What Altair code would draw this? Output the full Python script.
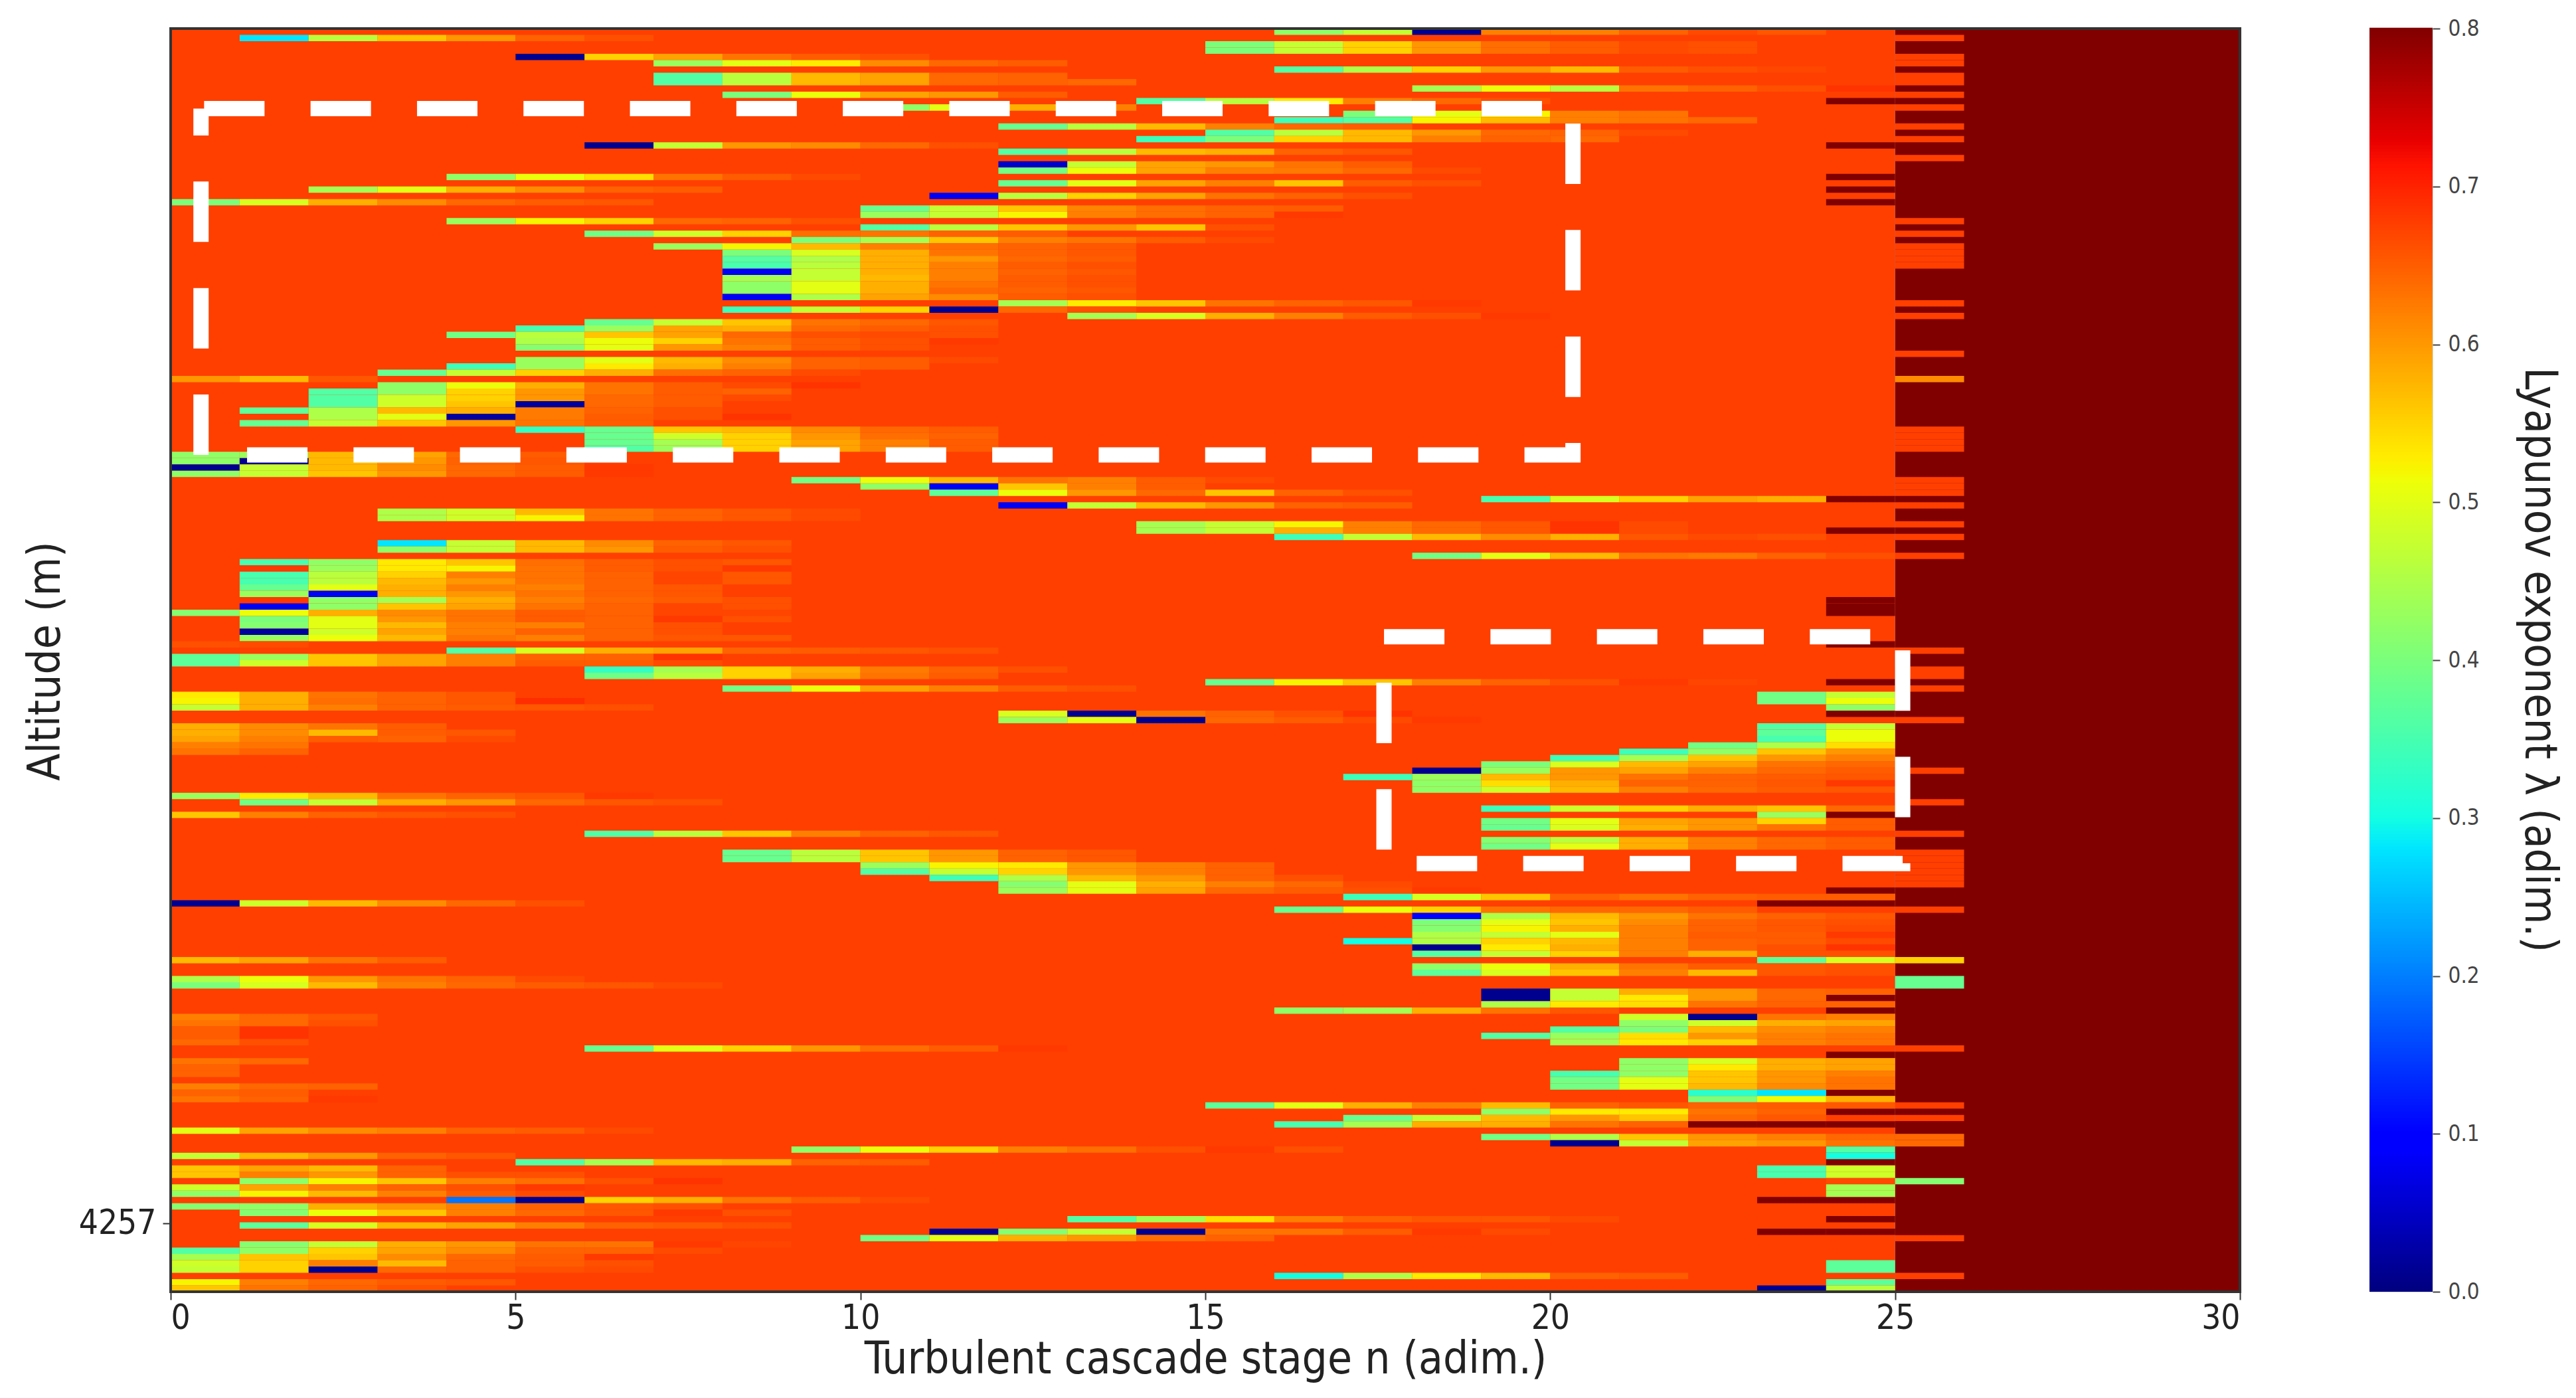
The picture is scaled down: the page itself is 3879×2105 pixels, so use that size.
import altair as alt
import pandas as pd

FONT = "DejaVu Sans Condensed"
BASE = 0.675
DARK = 0.8
N_ROWS = 200

# jet colormap, anchors on the 0-0.8 colorbar
jet_domain = [0, 0.088, 0.1, 0.272, 0.28, 0.3, 0.512, 0.52, 0.528, 0.712, 0.728, 0.8]
jet_range = ["#000080", "#0000ff", "#0000ff", "#00dbff", "#00e6ff", "#14ffe2", "#eeff08", "#f7f500",
             "#ffec00", "#ff1300", "#e80000", "#800000"]

x_ticks = [0, 5, 10, 15, 20, 25, 30]
cbar_ticks = [0, 0.1, 0.2, 0.3, 0.4, 0.5, 0.6, 0.7, 0.8]
altitude_tick_row = 189.2
altitude_tick_label = "4257"

# rows count from the top of the picture, starts are the cascade stage of the first cell
streak_rows = [
    0, 1, 2, 3, 4, 5, 6, 7, 8, 9, 10, 11, 12, 13, 14, 15, 16, 17, 18, 19, 21, 22, 23, 24, 25, 26, 27, 28, 29,
    30, 31, 32, 33, 34, 35, 36, 37, 38, 39, 40, 41, 42, 43, 44, 45, 46, 47, 48, 49, 50, 52, 53, 54, 55, 55, 56,
    57, 58, 59, 60, 61, 62, 63, 64, 65, 66, 67, 68, 69, 70, 71, 72, 73, 74, 75, 76, 77, 78, 79, 80, 81, 82, 83,
    84, 85, 86, 87, 88, 89, 90, 91, 92, 93, 94, 95, 96, 97, 98, 99, 100, 101, 102, 103, 104, 105, 105, 106, 106,
    107, 107, 108, 109, 110, 110, 111, 111, 112, 112, 113, 113, 114, 114, 115, 116, 117, 118, 119, 120, 121, 122,
    123, 124, 124, 125, 126, 127, 128, 129, 130, 131, 132, 133, 134, 135, 136, 137, 138, 139, 140, 141, 142, 143,
    144, 145, 146, 147, 147, 148, 149, 150, 150, 151, 151, 152, 153, 154, 155, 156, 156, 157, 157, 158, 158, 159,
    159, 160, 160, 161, 163, 163, 164, 164, 165, 165, 166, 167, 167, 168, 168, 169, 169, 170, 171, 172, 173, 174,
    175, 176, 177, 177, 178, 178, 179, 180, 180, 181, 181, 182, 182, 183, 183, 184, 184, 185, 186, 187, 188, 189,
    190, 190, 191, 192, 193, 194, 195, 195, 196, 196, 197, 198, 198, 199, 199,
]
streak_starts = [
    16, 1, 15, 15, 5, 7, 16, 7, 7, 18, 8, 14, 10, 17, 16, 12, 15, 14, 6, 12, 12, 12, 4, 12, 2, 11, 0, 10, 10,
    4, 10, 6, 9, 7, 8, 8, 8, 8, 8, 8, 8, 8, 12, 8, 13, 6, 5, 4, 5, 5, 5, 4, 3, 0, 25, 3,
    2, 2, 2, 1, 2, 1, 5, 6, 6, 6, 0, 0, 0, 0, 9, 10, 11, 19, 12, 3, 3, 14, 14, 16, 3, 3, 18,
    1, 1, 1, 1, 1, 1, 1, 1, 0, 1, 1, 1, 1, 0, 4, 0, 0, 6, 6, 15, 8, 0, 23, 0, 23,
    0, 24, 12, 12, 0, 23, 0, 23, 0, 23, 0, 22, 0, 21, 20, 19, 18, 17, 18, 18, 0, 1,
    19, 0, 23, 19, 19, 6, 19, 19, 8, 8, 10, 10, 11, 12, 12, 17, 0, 16, 18, 18, 18, 18,
    17, 18, 18, 0, 23, 18, 18, 0, 25, 0, 25, 19, 19, 19, 16, 0, 21, 0, 21, 0, 20, 0,
    19, 0, 20, 6, 0, 21, 0, 21, 0, 20, 20, 0, 20, 0, 22, 0, 22, 15, 19, 17, 16, 0,
    19, 20, 9, 24, 0, 24, 5, 0, 23, 0, 23, 1, 24, 0, 24, 0, 24, 4, 0, 1, 13, 1,
    11, 23, 10, 1, 0, 0, 0, 24, 0, 24, 16, 0, 24, 0, 23,
]
streak_values = [
    [.42, .47, .01, .62, .62, .645, .665, .655], [.28, .46, .56, .6, .645, .66],
    [.40, .47, .55, .6, .635, .65, .665, .66], [.40, .47, .55, .6, .635, .65, .665, .66],
    [.01, .55, .59, .63, .65, .66], [.43, .5, .53, .61, .64, .65], [.36, .45, .55, .6, .57, .65, .66, .668],
    [.36, .46, .57, .59, .64, .645], [.36, .46, .57, .59, .64, .645, .64], [.44, .51, .46, .63, .645, .66, .685],
    [.40, .51, .59, .6, .65], [.36, .46, .53, .62, .64, .66], [.42, .5, .58, .62], [.40, .5, .52, .62, .63],
    [.34, .36, .52, .57, .62, .63, .64], [.38, .46, .57, .62, .64, .65], [.36, .46, .57, .60, .64, .645, .665],
    [.34, .40, .55, .57, .62, .645, .64], [.01, .47, .6, .61, .64, .66], [.36, .46, .57, .58, .645, .655],
    [.05, .47, .59, .60, .63, .65], [.39, .51, .59, .62, .625, .64, .665], [.42, .51, .54, .63, .65, .665],
    [.38, .5, .59, .62, .56, .65, .66], [.44, .5, .58, .61, .645, .65], [.08, .46, .55, .59, .63, .645, .66],
    [.40, .49, .58, .61, .64, .65, .655], [.38, .47, .56, .615, .635, .645, .65], [.43, .47, .52, .62, .635, .645, .68],
    [.43, .52, .55, .64, .645, .66], [.36, .46, .56, .6, .56, .66], [.39, .48, .55, .635, .63, .645, .65],
    [.40, .44, .56, .62, .63, .65, .665], [.43, .52, .57, .62, .635, .645, .655], [.40, .49, .58, .63, .645, .655],
    [.36, .45, .58, .6, .64, .65], [.35, .46, .58, .62, .65, .66], [.08, .47, .58, .62, .645, .655],
    [.44, .47, .57, .62, .65, .66], [.42, .5, .58, .63, .65, .66], [.42, .5, .58, .64, .645, .655],
    [.08, .45, .59, .61, .65, .66], [.44, .53, .56, .63, .645, .655, .68], [.34, .47, .55, .01, .64, .66],
    [.44, .49, .58, .62, .65, .66, .68], [.38, .47, .56, .63, .64, .655], [.35, .43, .59, .58, .64, .65, .66],
    [.39, .46, .56, .59, .64, .66, .665, .66], [.45, .51, .55, .63, .65, .66, .68], [.41, .5, .6, .62, .65, .66],
    [.43, .5, .57, .61, .645, .65, .665], [.34, .43, .53, .58, .62, .645, .65], [.38, .47, .55, .58, .635, .645, .665],
    [.6, .57, .655], [.61], [.42, .51, .58, .63, .65, .665, .685],
    [.36, .42, .55, .6, .63, .65, .645], [.36, .48, .55, .6, .64, .65, .665], [.36, .48, .56, .02, .64, .65],
    [.37, .45, .57, .58, .625, .645, .66], [.45, .5, .02, .625, .65, .66, .685], [.38, .47, .56, .6, .63, .65],
    [.33, .38, .56, .57, .61, .64, .65], [.38, .48, .55, .6, .635, .645], [.38, .44, .55, .59, .62, .65],
    [.36, .43, .55, .59, .62, .65], [.42, .43, .57, .59, .64, .65], [.42, .01, .57, .6, .645, .655],
    [.01, .47, .57, .61, .64, .65, .68], [.42, .47, .56, .6, .64, .65, .68], [.39, .51, .57, .63, .62, .65, .665],
    [.42, .08, .56, .62, .65], [.37, .51, .6, .64, .56, .645, .66], [.35, .49, .55, .59, .58],
    [.08, .47, .57, .6, .645, .65], [.45, .48, .57, .63, .645, .655, .665], [.45, .48, .52, .63, .645, .655, .665],
    [.44, .47, .52, .62, .64, .655, .685, .665], [.44, .47, .58, .62, .64, .655, .685, .665],
    [.34, .47, .57, .61, .58, .655, .665, .66], [.28, .47, .57, .61, .645, .655], [.42, .47, .57, .6, .65, .66],
    [.39, .5, .57, .63, .625, .645, .66],
    [.35, .42, .53, .56, .635, .65, .66, .655], [.68, .43, .53, .52, .63, .65, .66, .68],
    [.35, .46, .55, .62, .63, .645, .67, .655], [.35, .46, .57, .6, .63, .645, .67, .655],
    [.38, .5, .58, .62, .62, .645, .655], [.43, .08, .58, .6, .63, .645, .655], [.68, .42, .44, .58, .62, .64, .65, .66],
    [.08, .42, .56, .59, .63, .645, .67, .66], [.41, .51, .58, .61, .63, .65, .645, .67, .67],
    [.40, .5, .6, .63, .65, .645, .68, .66], [.41, .5, .57, .62, .62, .645, .66], [.02, .48, .59, .62, .645, .645, .66],
    [.43, .51, .57, .63, .62, .645, .655, .655], [.66, .665], [.36, .49, .58, .59, .645, .65, .655, .66],
    [.37, .43, .56, .59, .62, .645, .645, .685], [.37, .48, .56, .59, .62, .65, .65, .665],
    [.33, .44, .55, .58, .625, .645, .66], [.39, .46, .55, .59, .63, .65], [.38, .52, .56, .62, .645, .66, .68, .67],
    [.39, .51, .59, .62, .65, .66], [.53, .58, .63, .645, .655], [.39, .47], [.52, .58, .635, .645, .655, .69], [.39, .51],
    [.47, .58, .62, .645, .65, .655, .66], [.42], [.49, .01, .63, .645, .66, .685], [.43, .5, .01, .64, .65, .665, .68],
    [.58, .61, .63, .65], [.36, .47], [.58, .61, .57, .65, .655], [.37, .51], [.59, .62, .65, .645, .665], [.35, .51],
    [.62, .63], [.39, .45, .54], [.63, .645], [.34, .42, .56, .6], [.34, .44, .56, .6, .62],
    [.40, .49, .57, .59, .63, .64], [.01, .43, .6, .59, .62, .64, .65], [.34, .43, .57, .6, .63, .645, .65, .655],
    [.42, .54, .58, .645, .645, .655, .68], [.42, .48, .57, .62, .64, .65, .655], [.43, .53, .57, .63, .645, .655, .68],
    [.39, .47, .58, .6, .64, .655, .66],
    [.34, .48, .55, .58, .56, .64], [.56, .62, .645, .655, .66], [.43, .8], [.39, .5, .59, .6, .55, .65],
    [.38, .49, .58, .6, .63, .65], [.36, .46, .56, .62, .645, .655], [.41, .46, .58, .62, .64, .65],
    [.39, .5, .58, .62, .64, .65], [.38, .46, .56, .6, .645, .655], [.38, .46, .56, .6, .645, .655],
    [.43, .52, .53, .6, .62, .645], [.36, .47, .55, .6, .62, .645], [.34, .45, .57, .6, .645, .66],
    [.41, .5, .58, .62, .64, .665], [.43, .5, .59, .64, .65, .66, .68], [.34, .49, .56, .645, .63, .645, .65, .65],
    [.01, .48, .57, .61, .64, .66], [.38, .51, .55, .63, .64, .64, .65], [.1, .45, .57, .6, .63, .645, .655],
    [.40, .5, .56, .61, .645, .655, .66], [.41, .52, .58, .62, .645, .655, .665], [.45, .47, .5, .62, .65, .65, .68],
    [.3, .45, .55, .57, .62, .645, .65, .665], [.01, .53, .58, .62, .645, .66, .685], [.36, .47, .55, .62, .58, .66, .66],
    [.57, .59, .63, .65], [.37, .49, .55], [.42, .51, .58, .63, .65, .655, .66], [.37, .49, .56, .62, .57, .655, .66],
    [.45, .51, .6, .63, .645, .665], [.38], [.40, .49, .57, .62, .64, .65, .655, .665], [.38],
    [.01, .47, .58, .6, .64, .645], [.01, .47, .53, .6, .64], [.45, .53, .54, .63, .645, .645],
    [.42, .44, .58, .63, .655], [.62, .64, .655], [.48, .01, .63, .62], [.63, .64, .66], [.42, .48, .58, .59],
    [.65, .685], [.36, .40, .57, .61, .62], [.65, .685], [.36, .43, .54, .6, .62, .63], [.64, .66],
    [.44, .53, .55, .62, .63], [.38, .5, .55, .6, .635, .65, .68], [.63, .64], [.42, .49, .58, .59], [.645],
    [.42, .53, .58, .59], [.645], [.35, .42, .56, .6, .62], [.39, .5, .56, .6, .63], [.62, .64, .645],
    [.39, .5, .57, .61, .63], [.645, .65], [.32, .28], [.63, .645, .68], [.4, .51, .58],
    [.37, .5, .58, .62, .57, .645, .655, .645, .65, .655], [.42, .53, .53, .63, .645], [.38, .47, .57, .6, .56, .64, .655],
    [.35, .44, .58, .58, .63, .645, .8, .8, .8, .8], [.5, .59, .61, .62, .645, .65, .665],
    [.39, .45, .56, .6, .62, .64, .64], [.01, .47, .59, .6, .63, .64], [.42, .51, .55, .62, .635, .66, .68, .66], [.36],
    [.47, .57, .6, .645, .655], [.3], [.36, .44, .57, .58, .645, .65], [.56, .59, .57, .645], [.35, .48],
    [.56, .62, .6, .645, .66, .66], [.35, .48], [.42, .52, .56, .62, .635, .66, .685], [.665, .41],
    [.48, .59, .62, .645, .66, .68], [.44], [.42, .52, .57, .62, .65, .665], [.44],
    [.19, .01, .55, .58, .63, .65, .665], [.41, .42, .58, .6, .62, .645, .655, .66], [.41, .51, .56, .62, .64, .655, .68, .66],
    [.36, .44, .54, .62, .645, .655, .655, .665], [.37, .49, .57, .59, .62, .645, .65, .66],
    [.01, .41, .47, .01, .63, .63, .65, .68, .665], [.8, .8, .8], [.39, .5, .58, .6, .635, .645],
    [.41, .47, .58, .6, .63, .63, .68, .67], [.36, .42, .55, .59, .61, .645, .645, .665], [.44, .56, .56, .61, .64, .65, .68],
    [.48, .55, .62, .57, .645, .65, .66], [.37], [.47, .55, .01, .64, .645, .66, .665], [.37],
    [.3, .45, .53, .57, .645, .65], [.52, .62, .64, .65, .655], [.37], [.56, .63, .645, .66], [.01, .46],
]

# stage 24 and 25 cells that leave the plain background
dark_col24_rows = [11, 18, 23, 25, 27, 74, 79, 90, 91, 92, 97, 103, 108, 136, 153, 155, 162, 168, 171, 177, 179, 188]
dark_col23_24_rows = [138, 185]
base_col25_rows = [1, 4, 5, 7, 8, 10, 12, 15, 17, 20, 30, 32, 34, 35, 36, 37, 43, 45, 51, 63, 64, 65, 66,
                   71, 72, 73, 75, 78, 80, 83, 98, 101, 102, 104, 109, 117, 122, 127, 130, 131, 132, 133,
                   134, 135, 139, 161, 170, 172, 191, 197]

# white dashed boxes, each path starts where its dash pattern starts
box1_n = [0.44, 20.33, 20.33, 0.44]
box1_r = [67.5, 67.5, 12.66, 12.66]
box1_left_n = [0.44, 0.44]
box1_left_r = [67.5, 12.66]
box2_n = [17.59, 25.11, 25.11, 17.59, 17.59]
box2_r = [132.2, 132.2, 96.29, 96.29, 132.2]

cells = [
    {"n": 0, "n2": 25, "r": 0, "r2": N_ROWS, "v": BASE},
    {"n": 25, "n2": 30, "r": 0, "r2": N_ROWS, "v": DARK},
]
for row in base_col25_rows:
    cells.append({"n": 25, "n2": 26, "r": row, "r2": row + 1, "v": BASE})
for row in dark_col24_rows:
    cells.append({"n": 24, "n2": 25, "r": row, "r2": row + 1, "v": DARK})
for row in dark_col23_24_rows:
    cells.append({"n": 23, "n2": 25, "r": row, "r2": row + 1, "v": DARK})
for row, start, values in zip(streak_rows, streak_starts, streak_values, strict=True):
    for i, v in enumerate(values):
        cells.append({"n": start + i, "n2": start + i + 1, "r": row, "r2": row + 1, "v": v})
df = pd.DataFrame(cells)

color_scale = alt.Scale(domain=jet_domain, range=jet_range, clamp=True, interpolate="rgb")
x_scale = alt.Scale(domain=[0, 30], nice=False)
y_scale = alt.Scale(domain=[N_ROWS, 0], nice=False)

x_axis = alt.Axis(values=x_ticks, title="Turbulent cascade stage n (adim.)", grid=False, format="d",
                  labelFontSize=51, labelColor="#222222", labelPadding=3, tickSize=12, tickWidth=2,
                  tickColor="#333333", domain=False, titleFontSize=67, titleFontWeight="normal",
                  titleColor="#222222", titlePadding=4)
y_axis = alt.Axis(values=[altitude_tick_row], labelExpr=f"'{altitude_tick_label}'", title="Altitude (m)",
                  grid=False, labelFontSize=51, labelColor="#222222", labelPadding=10, tickSize=12,
                  tickWidth=2, tickColor="#333333", domain=False, titleFontSize=67,
                  titleFontWeight="normal", titleColor="#222222", titleX=-154, titleY=952)

heat = alt.Chart(df).mark_rect(stroke=None).encode(
    x=alt.X("n:Q", axis=x_axis, scale=x_scale),
    x2="n2:Q",
    y=alt.Y("r:Q", axis=y_axis, scale=y_scale),
    y2="r2:Q",
    color=alt.Color("v:Q", scale=color_scale, legend=None),
)


def dashed_box(box_n, box_r, offset):
    data = pd.DataFrame({"n": box_n, "r": box_r, "i": list(range(len(box_n)))})
    return alt.Chart(data).mark_line(
        color="white", strokeWidth=23, strokeDash=[91, 69.3], strokeDashOffset=offset,
        strokeCap="butt", strokeJoin="miter",
    ).encode(
        x=alt.X("n:Q"),
        y=alt.Y("r:Q"),
        order="i:Q",
    )


frame = alt.Chart(pd.DataFrame({"n": [0], "n2": [30], "r": [0], "r2": [N_ROWS]})).mark_rect(
    filled=False, stroke="#333333", strokeWidth=4
).encode(x="n:Q", x2="n2:Q", y="r:Q", y2="r2:Q")

main = alt.layer(
    heat,
    dashed_box(box1_n, box1_r, 91),
    dashed_box(box1_left_n, box1_left_r, 0),
    dashed_box(box2_n, box2_r, 111),
    frame,
).properties(width=3116, height=1902)

# colorbar: thin slices of the same scale
cbar = alt.Chart(alt.sequence(0, 0.8, 0.002, as_="v")).transform_calculate(v2="datum.v + 0.0025").mark_rect().encode(
    x=alt.value(0),
    x2=alt.value(95),
    y=alt.Y("v:Q", scale=alt.Scale(domain=[0, 0.8], nice=False),
            axis=alt.Axis(orient="right", values=cbar_ticks, format=".1f", grid=False, domain=False,
                          labelFontSize=33, labelColor="#444444", labelPadding=12, tickSize=11, tickWidth=2,
                          tickColor="#444444", title="Lyapunov exponent \u03bb (adim.)", titleAngle=90,
                          titleFontSize=67, titleFontWeight="normal", titleColor="#222222",
                          titleX=125, titleY=950)),
    y2="v2:Q",
    color=alt.Color("v:Q", scale=color_scale, legend=None),
).properties(width=95, height=1902)

chart = alt.hconcat(main, cbar, spacing=195, bounds="flush").properties(
    padding={"left": 26, "top": 18, "right": 4, "bottom": 4},
).configure_view(
    stroke="#555555", strokeWidth=4
).configure(
    font=FONT
)

chart.save("out.html", embed_options={"renderer": "svg", "actions": False})
